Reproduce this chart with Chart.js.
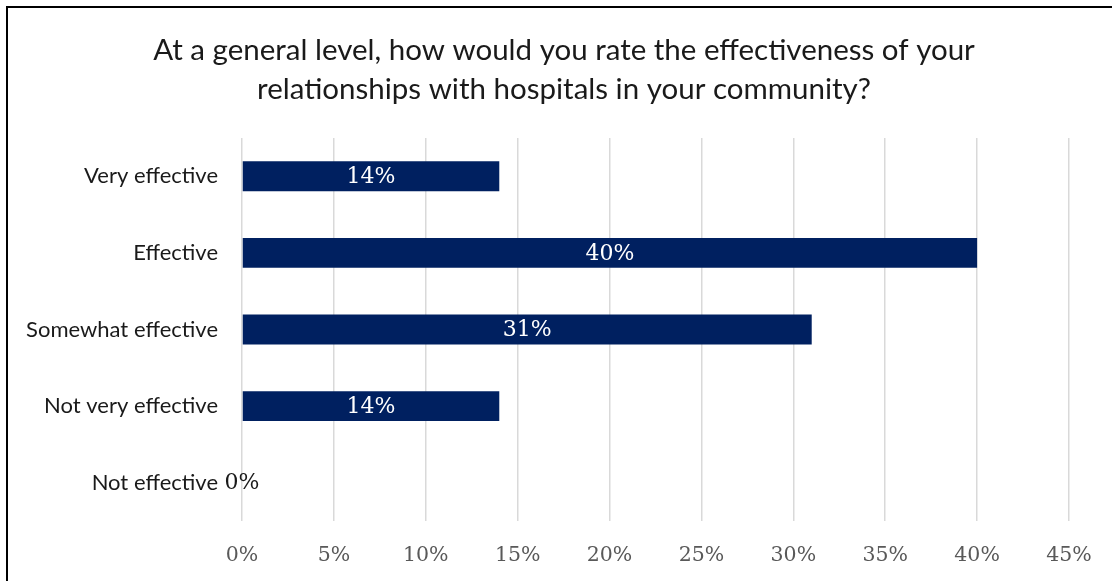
<!DOCTYPE html>
<html>
<head>
<meta charset="utf-8">
<script src="https://cdn.jsdelivr.net/npm/chart.js@4.4.1/dist/chart.umd.min.js"></script>
<style>
  html, body { margin: 0; padding: 0; background: #fff; overflow: hidden; }
  #wrap { position: relative; width: 1112px; height: 581px; overflow: hidden; }
  #frame {
    position: absolute; left: 6px; top: 6px; width: 1200px; height: 700px;
    border-top: 2px solid #000; border-left: 2px solid #000; pointer-events: none;
  }
  canvas { position: absolute; left: 0; top: 0; }
</style>
</head>
<body>
<div id="wrap">
  <canvas id="effChart" width="1128" height="581"></canvas>
  <div id="frame"></div>
</div>
<script>
const titleLines = [
  "At a general level, how would you rate the effectiveness of your",
  "relationships with hospitals in your community?"
];
const ratings = ["Very effective", "Effective", "Somewhat effective", "Not very effective", "Not effective"];
const shares = [14, 40, 31, 14, 0];
const xTicks = [0, 5, 10, 15, 20, 25, 30, 35, 40, 45];

const serif = "'DejaVu Serif', serif";
const sans = "Lato, 'Open Sans', sans-serif";

// two-line heading centred on the whole canvas, not the plot
const heading = {
  id: "heading",
  afterDraw(chart) {
    const ctx = chart.ctx;
    ctx.save();
    ctx.font = "29.5px " + sans;
    ctx.fillStyle = "#1a1a1a";
    ctx.textAlign = "center";
    ctx.textBaseline = "middle";
    titleLines.forEach((line, i) => ctx.fillText(line, chart.width / 2, 50 + i * 39));
    ctx.restore();
  }
};

// white value labels inside each bar, dark when the bar is empty
const barLabels = {
  id: "barLabels",
  afterDatasetsDraw(chart) {
    const ctx = chart.ctx;
    const meta = chart.getDatasetMeta(0);
    ctx.save();
    ctx.font = "22px " + serif;
    ctx.textAlign = "center";
    ctx.textBaseline = "middle";
    meta.data.forEach((bar, i) => {
      const v = shares[i];
      const x = (bar.x + bar.base) / 2;
      ctx.fillStyle = v === 0 ? "#1a1a1a" : "#ffffff";
      ctx.fillText(v + "%", x, bar.y + 1);
    });
    ctx.restore();
  }
};

new Chart(document.getElementById("effChart").getContext("2d"), {
  type: "bar",
  data: {
    labels: ratings,
    datasets: [{
      data: shares,
      backgroundColor: "#002060",
      barPercentage: 0.39,
      categoryPercentage: 1
    }]
  },
  options: {
    indexAxis: "y",
    responsive: false,
    animation: false,
    layout: { padding: { left: 0, right: 59, top: 138, bottom: 0 } },
    plugins: {
      legend: { display: false },
      tooltip: { enabled: false },
      title: { display: false }
    },
    scales: {
      x: {
        min: 0,
        max: 45,
        afterBuildTicks(scale) {
          scale.ticks = xTicks.map(v => ({ value: v }));
        },
        afterFit(scale) { scale.height = 60; },
        ticks: {
          color: "#595959",
          font: { family: serif, size: 20.5 },
          padding: 22,
          callback: v => v + "%"
        },
        grid: { color: "#d9d9d9", lineWidth: 1.5, drawTicks: false },
        border: { display: false }
      },
      y: {
        afterFit(scale) { scale.width = 242; },
        ticks: {
          color: "#1a1a1a",
          font: { family: sans, size: 22 },
          padding: 24
        },
        grid: { display: false, drawTicks: false },
        border: { display: false }
      }
    }
  },
  plugins: [heading, barLabels]
});
</script>
</body>
</html>
